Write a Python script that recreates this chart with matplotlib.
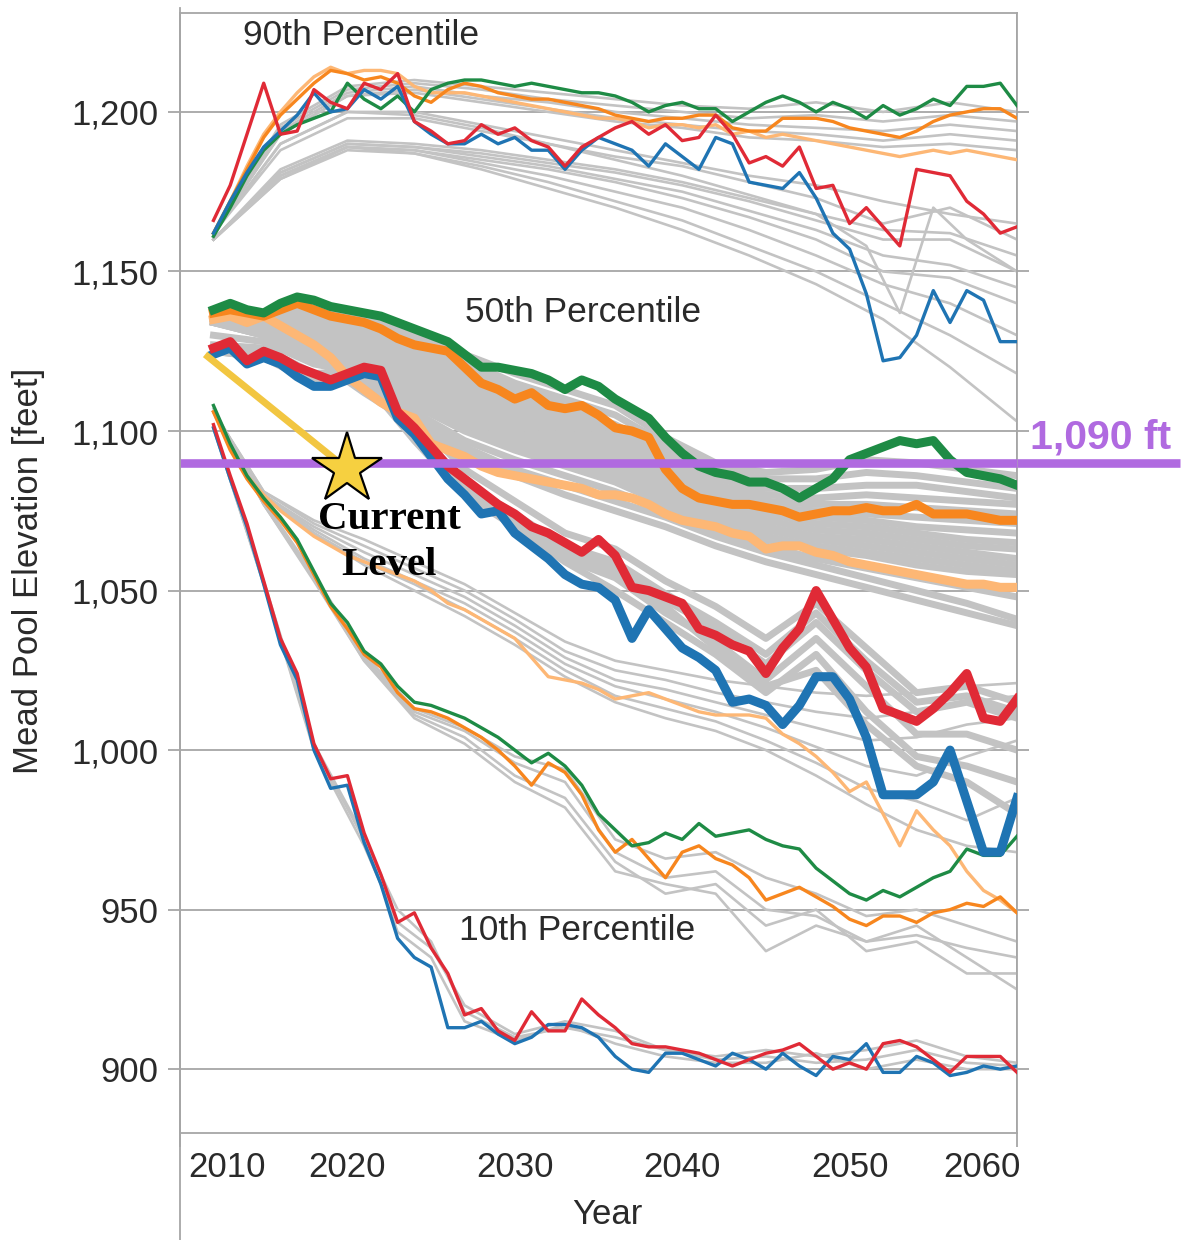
import matplotlib
matplotlib.use("Agg")
import matplotlib.pyplot as plt
from matplotlib.lines import Line2D

# simulation years
years = list(range(2012, 2061))

# ---- 90th percentile traces ----
green90 = [1161, 1170, 1180, 1188, 1193, 1196, 1198, 1200, 1209, 1204,
           1201, 1205, 1200, 1207, 1209, 1210, 1210, 1209, 1208, 1209,
           1208, 1207, 1206, 1206, 1205, 1203, 1200, 1202, 1203, 1201,
           1201, 1197, 1200, 1203, 1205, 1203, 1200, 1203, 1201, 1198,
           1202, 1199, 1201, 1204, 1202, 1208, 1208, 1209, 1202]
orange90 = [1162, 1172, 1182, 1192, 1199, 1204, 1209, 1213, 1212, 1210,
            1211, 1209, 1205, 1203, 1207, 1209, 1208, 1206, 1205, 1204,
            1204, 1203, 1202, 1201, 1199, 1198, 1197, 1198, 1198, 1199,
            1199, 1195, 1194, 1194, 1198, 1198, 1198, 1197, 1195, 1194,
            1193, 1192, 1194, 1197, 1199, 1200, 1201, 1201, 1198]
peach90 = [1162, 1172, 1183, 1193, 1200, 1206, 1211, 1214, 1212, 1213,
           1213, 1212, 1208, 1206, 1206, 1206, 1205, 1204, 1203, 1202,
           1201, 1200, 1199, 1198, 1198, 1197, 1195, 1196, 1196, 1195,
           1196, 1193, 1194, 1192, 1193, 1192, 1191, 1190, 1189, 1188,
           1187, 1186, 1187, 1188, 1187, 1188, 1187, 1186, 1185]
red90 = [1166, 1177, 1193, 1209, 1193, 1194, 1207, 1203, 1201, 1209,
         1207, 1212, 1197, 1194, 1190, 1191, 1196, 1193, 1195, 1191,
         1189, 1183, 1189, 1192, 1195, 1197, 1193, 1196, 1191, 1192,
         1199, 1193, 1184, 1186, 1183, 1189, 1176, 1177, 1165, 1170,
         1164, 1158, 1182, 1181, 1180, 1172, 1168, 1162, 1164]
blue90 = [1162, 1172, 1181, 1189, 1194, 1199, 1206, 1200, 1201, 1207,
          1204, 1208, 1197, 1193, 1190, 1190, 1193, 1190, 1192, 1188,
          1188, 1182, 1188, 1192, 1190, 1188, 1183, 1190, 1186, 1182,
          1192, 1190, 1178, 1177, 1176, 1181, 1173, 1162, 1157, 1143,
          1122, 1123, 1130, 1144, 1134, 1144, 1141, 1128, 1128]

gray90_years = [2012, 2016, 2020, 2024, 2028, 2032, 2036, 2040, 2044, 2048, 2052, 2056, 2060]
gray90 = [
    [1162, 1196, 1208, 1210, 1208, 1206, 1204, 1202, 1201, 1203, 1200, 1203, 1200],
    [1162, 1195, 1207, 1209, 1207, 1204, 1202, 1200, 1198, 1199, 1197, 1199, 1197],
    [1162, 1194, 1206, 1208, 1205, 1203, 1200, 1198, 1196, 1195, 1194, 1196, 1194],
    [1162, 1193, 1205, 1207, 1204, 1201, 1198, 1196, 1194, 1193, 1191, 1193, 1191],
    [1162, 1193, 1205, 1206, 1203, 1200, 1197, 1195, 1192, 1191, 1189, 1190, 1188],
    [1160, 1182, 1191, 1190, 1188, 1185, 1182, 1178, 1173, 1168, 1163, 1162, 1155],
    [1160, 1181, 1190, 1189, 1187, 1184, 1181, 1177, 1172, 1166, 1160, 1160, 1150],
    [1160, 1181, 1190, 1189, 1186, 1183, 1179, 1175, 1169, 1163, 1155, 1152, 1145],
    [1160, 1180, 1189, 1188, 1185, 1182, 1178, 1173, 1167, 1160, 1150, 1148, 1140],
    [1160, 1180, 1189, 1188, 1184, 1180, 1175, 1170, 1163, 1155, 1146, 1140, 1130],
    [1160, 1179, 1189, 1187, 1183, 1178, 1172, 1166, 1158, 1150, 1140, 1130, 1118],
    [1160, 1179, 1188, 1187, 1182, 1176, 1170, 1163, 1155, 1146, 1135, 1120, 1103],
    [1162, 1190, 1200, 1200, 1196, 1192, 1188, 1184, 1180, 1177, 1172, 1168, 1165],
    [1162, 1188, 1198, 1198, 1194, 1190, 1186, 1183, 1178, 1173, 1165, 1170, 1160],
]
dip90_years = [2012, 2016, 2020, 2024, 2028, 2032, 2036, 2040, 2044, 2048, 2051, 2053, 2055, 2057, 2060]
dip90 = [1162, 1190, 1200, 1199, 1195, 1190, 1185, 1180, 1174, 1168, 1158, 1137, 1170, 1160, 1150]

# ---- 50th percentile traces ----
green50 = [1138, 1140, 1138, 1137, 1140, 1142, 1141, 1139, 1138, 1137,
           1136, 1134, 1132, 1130, 1128, 1124, 1120, 1120, 1119, 1118,
           1116, 1113, 1116, 1114, 1110, 1107, 1104, 1098, 1093, 1089,
           1087, 1086, 1084, 1084, 1082, 1079, 1082, 1085, 1091, 1093,
           1095, 1097, 1096, 1097, 1091, 1087, 1086, 1085, 1083]
orange50 = [1137, 1138, 1137, 1136, 1138, 1140, 1138, 1136, 1135, 1134,
            1132, 1129, 1127, 1126, 1125, 1120, 1115, 1113, 1110, 1112,
            1108, 1107, 1108, 1105, 1101, 1100, 1098, 1088, 1082, 1079,
            1078, 1077, 1077, 1076, 1075, 1073, 1074, 1075, 1075, 1076,
            1075, 1075, 1077, 1074, 1074, 1074, 1073, 1072, 1072]
peach50 = [1135, 1136, 1134, 1136, 1133, 1130, 1127, 1123, 1117, 1113,
           1109, 1106, 1104, 1096, 1094, 1092, 1089, 1087, 1086, 1085,
           1084, 1083, 1082, 1080, 1080, 1079, 1077, 1074, 1072, 1071,
           1070, 1068, 1067, 1063, 1064, 1064, 1062, 1061, 1059, 1058,
           1057, 1056, 1055, 1054, 1053, 1052, 1052, 1051, 1051]
red50 = [1126, 1128, 1122, 1125, 1123, 1120, 1118, 1116, 1118, 1120,
         1119, 1106, 1101, 1095, 1089, 1085, 1081, 1077, 1074, 1070,
         1068, 1065, 1062, 1066, 1061, 1051, 1050, 1048, 1046, 1038,
         1036, 1033, 1031, 1024, 1032, 1038, 1050, 1041, 1032, 1026,
         1013, 1011, 1009, 1013, 1018, 1024, 1010, 1009, 1016]
blue50 = [1124, 1126, 1121, 1123, 1121, 1117, 1114, 1114, 1116, 1118,
          1117, 1104, 1099, 1092, 1085, 1080, 1074, 1075, 1068, 1064,
          1060, 1055, 1052, 1051, 1047, 1035, 1044, 1038, 1032, 1029,
          1025, 1015, 1016, 1014, 1008, 1014, 1023, 1023, 1016, 1004,
          986, 986, 986, 990, 1000, 984, 968, 968, 985]

gray50_years = [2012, 2015, 2018, 2021, 2024, 2027, 2030, 2033, 2036, 2039, 2042, 2045, 2048, 2051, 2054, 2057, 2060]
gray50 = [
    [1138, 1137, 1139, 1135, 1131, 1124, 1118, 1113, 1108, 1098, 1090, 1087, 1088, 1091, 1090, 1088, 1086],
    [1137, 1137, 1138, 1134, 1129, 1122, 1115, 1110, 1105, 1096, 1088, 1085, 1085, 1087, 1086, 1084, 1082],
    [1137, 1136, 1137, 1132, 1127, 1120, 1113, 1108, 1102, 1094, 1085, 1082, 1082, 1083, 1083, 1081, 1079],
    [1136, 1135, 1136, 1130, 1125, 1118, 1111, 1106, 1100, 1092, 1083, 1080, 1079, 1080, 1079, 1078, 1077],
    [1136, 1135, 1135, 1129, 1123, 1116, 1110, 1104, 1098, 1090, 1082, 1078, 1077, 1077, 1076, 1075, 1074],
    [1136, 1134, 1134, 1127, 1121, 1114, 1108, 1102, 1096, 1088, 1080, 1076, 1075, 1074, 1073, 1072, 1071],
    [1136, 1134, 1133, 1126, 1119, 1112, 1106, 1100, 1094, 1086, 1079, 1075, 1073, 1072, 1070, 1069, 1068],
    [1135, 1133, 1132, 1124, 1117, 1110, 1104, 1098, 1092, 1085, 1078, 1074, 1071, 1070, 1068, 1066, 1065],
    [1135, 1133, 1131, 1123, 1116, 1108, 1102, 1096, 1090, 1083, 1076, 1072, 1069, 1068, 1066, 1064, 1063],
    [1135, 1132, 1130, 1121, 1114, 1106, 1100, 1094, 1088, 1081, 1075, 1070, 1067, 1066, 1064, 1062, 1060],
    [1135, 1132, 1129, 1120, 1112, 1104, 1098, 1092, 1087, 1080, 1074, 1069, 1066, 1064, 1062, 1060, 1058],
    [1134, 1131, 1128, 1118, 1110, 1102, 1096, 1090, 1085, 1078, 1072, 1067, 1064, 1062, 1060, 1058, 1056],
    [1134, 1131, 1127, 1117, 1108, 1100, 1094, 1089, 1084, 1077, 1071, 1066, 1063, 1061, 1058, 1056, 1055],
    [1134, 1130, 1125, 1115, 1106, 1097, 1091, 1086, 1081, 1075, 1069, 1064, 1060, 1057, 1054, 1051, 1048],
    [1134, 1130, 1124, 1114, 1104, 1095, 1088, 1083, 1078, 1073, 1067, 1062, 1058, 1054, 1050, 1046, 1041],
    [1134, 1130, 1123, 1112, 1102, 1093, 1086, 1080, 1075, 1070, 1064, 1059, 1055, 1051, 1047, 1043, 1039],
    [1130, 1128, 1121, 1118, 1104, 1088, 1078, 1068, 1063, 1053, 1045, 1035, 1046, 1032, 1018, 1020, 1015],
    [1127, 1126, 1118, 1119, 1101, 1084, 1074, 1064, 1059, 1049, 1040, 1030, 1043, 1028, 1015, 1017, 1012],
    [1125, 1124, 1117, 1118, 1100, 1083, 1073, 1063, 1058, 1047, 1038, 1027, 1040, 1025, 1012, 1015, 1010],
    [1125, 1124, 1116, 1117, 1098, 1081, 1071, 1060, 1054, 1043, 1034, 1022, 1035, 1020, 1005, 1005, 1000],
    [1125, 1123, 1116, 1116, 1097, 1080, 1070, 1059, 1050, 1040, 1030, 1018, 1030, 1012, 998, 995, 990],
    [1125, 1123, 1115, 1117, 1099, 1082, 1072, 1062, 1056, 1045, 1032, 1020, 1025, 1008, 995, 990, 980],
]

# ---- 10th percentile traces ----
green10 = [1108, 1096, 1086, 1079, 1073, 1066, 1056, 1046, 1040, 1031,
           1027, 1020, 1015, 1014, 1012, 1010, 1007, 1004, 1000, 996,
           999, 995, 989, 980, 975, 970, 971, 974, 972, 977,
           973, 974, 975, 972, 970, 969, 963, 959, 955, 953,
           956, 954, 957, 960, 962, 969, 967, 967, 973]
orange10 = [1106, 1094, 1085, 1078, 1072, 1065, 1055, 1045, 1038, 1030,
            1026, 1018, 1013, 1012, 1010, 1007, 1004, 1000, 995, 989,
            996, 993, 986, 975, 968, 972, 966, 960, 968, 970,
            966, 964, 960, 953, 955, 957, 954, 951, 947, 945,
            948, 948, 946, 949, 950, 952, 951, 954, 949]
peach10 = [1106, 1095, 1086, 1080, 1075, 1071, 1067, 1064, 1061, 1059,
           1057, 1055, 1053, 1050, 1046, 1044, 1041, 1038, 1035, 1029,
           1023, 1022, 1021, 1019, 1016, 1017, 1018, 1016, 1014, 1012,
           1011, 1011, 1011, 1010, 1005, 1002, 998, 993, 987, 990,
           980, 970, 981, 975, 970, 962, 956, 953, 949]
red10 = [1102, 1086, 1071, 1053, 1035, 1024, 1002, 991, 992, 974,
         961, 946, 949, 938, 930, 917, 919, 912, 909, 918,
         912, 912, 922, 917, 913, 908, 907, 907, 906, 905,
         903, 901, 903, 905, 906, 908, 904, 900, 902, 900,
         908, 909, 907, 903, 899, 904, 904, 904, 899]
blue10 = [1101, 1085, 1070, 1052, 1033, 1022, 1000, 988, 989, 971,
          958, 941, 935, 932, 913, 913, 915, 911, 908, 910,
          914, 914, 913, 910, 904, 900, 899, 905, 905, 903,
          901, 905, 903, 900, 905, 901, 898, 904, 903, 908,
          899, 899, 904, 902, 898, 899, 901, 900, 901]

gray10_years = [2012, 2015, 2018, 2021, 2024, 2027, 2030, 2033, 2036, 2039, 2042, 2045, 2048, 2051, 2054, 2057, 2060]
gray10 = [
    [1106, 1081, 1072, 1066, 1059, 1052, 1043, 1034, 1028, 1025, 1022, 1020, 1018, 1017, 1018, 1020, 1021],
    [1106, 1081, 1071, 1064, 1057, 1050, 1041, 1031, 1025, 1022, 1018, 1015, 1012, 1010, 1012, 1015, 1017],
    [1106, 1080, 1070, 1062, 1055, 1048, 1039, 1029, 1022, 1019, 1015, 1011, 1007, 1003, 1004, 1008, 1010],
    [1106, 1080, 1069, 1060, 1053, 1046, 1037, 1027, 1020, 1016, 1012, 1007, 1001, 995, 992, 998, 1003],
    [1106, 1080, 1068, 1059, 1052, 1044, 1035, 1025, 1017, 1013, 1009, 1003, 996, 988, 984, 978, 985],
    [1106, 1079, 1068, 1058, 1050, 1042, 1033, 1023, 1015, 1010, 1006, 1000, 992, 983, 975, 970, 968],
    [1106, 1077, 1054, 1029, 1012, 1006, 996, 990, 968, 960, 962, 950, 948, 940, 942, 938, 935],
    [1106, 1077, 1053, 1028, 1011, 1004, 992, 985, 965, 955, 958, 945, 950, 937, 940, 930, 930],
    [1106, 1077, 1054, 1028, 1010, 1002, 990, 982, 962, 958, 955, 937, 945, 940, 945, 935, 925],
    [1107, 1078, 1055, 1030, 1013, 1007, 998, 994, 972, 966, 968, 960, 955, 948, 950, 945, 940],
]
low10_years = [2012, 2015, 2018, 2021, 2023, 2025, 2027, 2030, 2033, 2036, 2039, 2042, 2045, 2048, 2051, 2054, 2057, 2060]
low10 = [
    [1101, 1052, 1001, 972, 950, 940, 918, 910, 913, 910, 906, 903, 904, 902, 903, 906, 902, 901],
    [1101, 1053, 1002, 973, 943, 935, 915, 909, 914, 908, 904, 902, 902, 905, 900, 903, 900, 900],
    [1101, 1052, 1000, 970, 946, 938, 920, 911, 915, 912, 906, 904, 906, 904, 906, 909, 904, 902],
]

# current level marker and threshold
threshold = 1090
current_year, current_level = 2020, 1088
lead_in = (2011.5, 1124)

y_ticks = [900, 950, 1000, 1050, 1100, 1150, 1200]
x_grid = [2010, 2020, 2030, 2040, 2050, 2060]
x_labels = ["2010", "2020", "2030", "2040", "2050", "2060"]
x_label_pos = [2012.8, 2020, 2030, 2040, 2050, 2057.9]

GRAY = "#C3C3C3"
GRID = "#A6A6A6"
GREEN = "#1E8B45"
ORANGE = "#F7861E"
PEACH = "#FDB775"
RED = "#E02A36"
BLUE = "#1F74B3"
PURPLE = "#B06AE0"
TXT = "#2A2A2A"

plt.rcParams['font.family'] = ['Liberation Sans', 'DejaVu Sans']

fig = plt.figure(figsize=(11.83, 12.4), dpi=100)
ax = fig.add_axes([0.15216, 0.08629, 0.70752, 0.90323])


def draw_group(grays, gray_x, lw_gray, lw_col, cols):
    for g in grays:
        ax.plot(gray_x, g, color=GRAY, lw=lw_gray, solid_joinstyle='round', zorder=2)
    for vals, c in cols:
        ax.plot(years, vals, color=c, lw=lw_col, solid_joinstyle='round', zorder=3)


# 90th percentile
draw_group(gray90, gray90_years, 1.9, 2.4,
           [(peach90, PEACH), (orange90, ORANGE), (green90, GREEN), (blue90, BLUE), (red90, RED)])
ax.plot(dip90_years, dip90, color=GRAY, lw=1.9, zorder=2)

# 10th percentile
draw_group(gray10, gray10_years, 1.9, 2.4,
           [(peach10, PEACH), (orange10, ORANGE), (green10, GREEN)])
for g in low10:
    ax.plot(low10_years, g, color=GRAY, lw=1.9, zorder=2)
ax.plot(years, blue10, color=BLUE, lw=2.4, zorder=3)
ax.plot(years, red10, color=RED, lw=2.4, zorder=3)

# 50th percentile (heavy lines)
draw_group(gray50, gray50_years, 5.0, 6.5,
           [(peach50, PEACH), (orange50, ORANGE), (green50, GREEN), (blue50, BLUE), (red50, RED)])

# current level pointer
ax.plot([lead_in[0], current_year], [lead_in[1], current_level], color="#F2C641", lw=5,
        solid_capstyle='butt', zorder=6)
ax.axhline(threshold, color=PURPLE, lw=6.2, zorder=7)
ax.plot([1.0, 1.195], [threshold, threshold], color=PURPLE, lw=6.2, solid_capstyle='butt',
        transform=ax.get_yaxis_transform(), clip_on=False, zorder=7)
ax.plot([current_year], [current_level], marker='*', ms=53, mfc="#F6D040", mec="black",
        mew=1.6, zorder=8, clip_on=False)

ax.text(2022.5, 1065, "Current\nLevel", ha='center', va='center', fontsize=29.5,
        fontweight='bold', family=['Liberation Serif', 'DejaVu Serif'], linespacing=1.3,
        color='black', zorder=9)
ax.text(1.100, 1098, "1,090 ft", transform=ax.get_yaxis_transform(), ha='center', va='center',
        fontsize=29.5, fontweight='bold', color=PURPLE, clip_on=False)

# group labels
ax.text(2020.8, 1224, "90th Percentile", ha='center', va='center', fontsize=25.5, color=TXT)
ax.text(2034.1, 1137, "50th Percentile", ha='center', va='center', fontsize=25.5, color=TXT,
        zorder=9)
ax.text(2033.7, 943.5, "10th Percentile", ha='center', va='center', fontsize=25.5, color=TXT,
        zorder=9)

ax.set_xlim(2010, 2060)
ax.set_ylim(880, 1231)

# y axis: ticks reach out both sides like the grid
ax.set_yticks(y_ticks)
ax.set_yticklabels([f"{v:,}" for v in y_ticks])
ax.tick_params(axis='y', left=True, right=True, length=8.5, width=1.3, color=GRID,
               pad=7, labelsize=25, labelcolor=TXT)

# x axis: grid lines on minor ticks, labels on major
ax.set_xticks(x_grid, minor=True)
ax.set_xticks(x_label_pos)
ax.set_xticklabels(x_labels)
ax.tick_params(axis='x', which='major', length=0, pad=13, labelsize=25, labelcolor=TXT)
ax.tick_params(axis='x', which='minor', length=10, width=1.3, color=GRID)

ax.grid(True, axis='y', which='major', color=GRID, lw=1.3, zorder=0)
ax.grid(True, axis='x', which='minor', color=GRID, lw=1.3, zorder=0)
ax.set_axisbelow(True)
for s in ax.spines.values():
    s.set_color(GRID)
    s.set_linewidth(1.3)

# left axis line runs down past the year labels
fig.add_artist(Line2D([0.15216, 0.15216], [0.0, 1 - 8 / 1240], transform=fig.transFigure,
                      color=GRID, lw=1.3))

fig.text(29 / 1183, 1 - 571 / 1240, "Mead Pool Elevation [feet]", rotation=90,
         ha='center', va='center', fontsize=25, color=TXT)
fig.text(607 / 1183, 1 - 1214 / 1240, "Year", ha='center', va='center', fontsize=25, color=TXT)

fig.savefig("out.png", dpi=100)
